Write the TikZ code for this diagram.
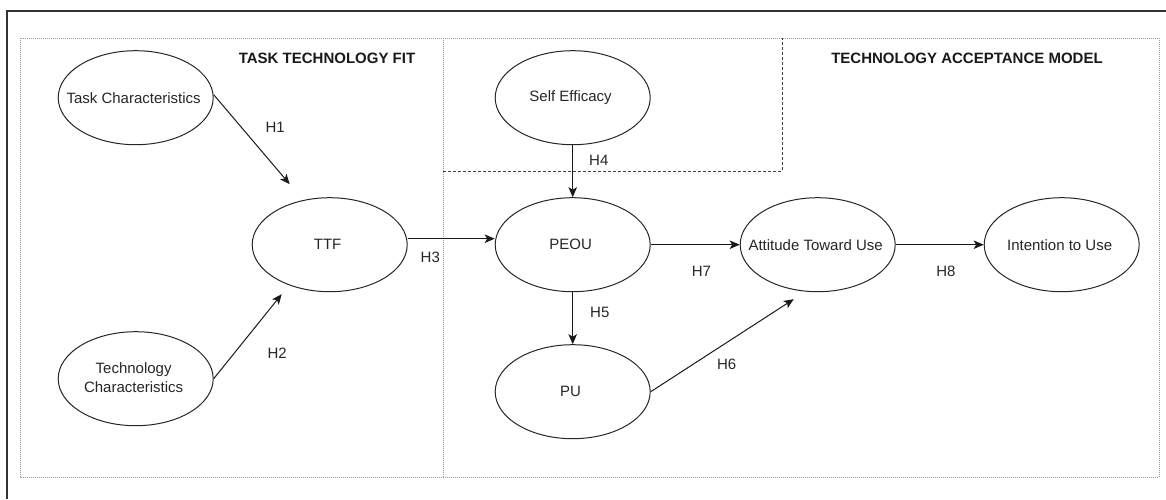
\documentclass[tikz,border=0pt]{standalone}
\usepackage{fontspec}
\setmainfont{Liberation Sans}
\usepackage{tikz}
\usetikzlibrary{matrix,shapes.geometric,arrows.meta}

\tikzset{
  construct/.style={ellipse, draw=black!85, line width=1pt, minimum width=155pt,
    minimum height=94pt, inner xsep=-15pt, inner ysep=3pt, anchor=center,
    align=center, font=\fontsize{15}{19}\selectfont, text=black!85},
  hyp/.style={inner sep=0pt, font=\fontsize{15}{18}\selectfont, text=black!85},
  zone/.style={draw=black!40, line width=1pt, dash pattern=on 1pt off 1pt},
  subzone/.style={draw=black!75, line width=1pt, dash pattern=on 3pt off 2pt},
  heading/.style={font=\fontsize{15}{18}\selectfont\bfseries, text=black!90}
}

\begin{document}
\begin{tikzpicture}[x=1pt,y=1pt]
    \useasboundingbox (0,0) rectangle (1166,-499);
    \draw[black!80, line width=1.5pt] (7,-499) -- (7,-11) -- (1166,-11);
    \draw[zone] (20,-38) rectangle (1159,-477);
    \draw[zone] (443,-38) -- (443,-477);
    \draw[subzone] (443,-171) -- (782,-171) -- (782,-38);
    \node[heading] (ttftitle) at (327,-58) {TASK TECHNOLOGY FIT};
    \node[heading] (tamtitle) at (967,-58) {TECHNOLOGY ACCEPTANCE MODEL};

    \matrix (m) [matrix of nodes, anchor=north west, inner sep=0pt, row sep=52pt,
      column sep=88pt, nodes={construct}] at (57.5,-50)
    {
      Task Characteristics &[-50pt] &[-1pt] Self Efficacy &[1pt] &[0pt] \\
      &[-50pt] TTF &[-1pt] PEOU &[1pt] Attitude Toward Use &[0pt] Intention to Use \\[-13pt]
      |[yshift=13pt]| \begin{tabular}{@{}c@{}}Technology\\Characteristics\end{tabular} &[-50pt] &[-1pt] PU &[1pt] &[0pt] \\
    };
    \path[-{Stealth[length=10pt,width=8.5pt,inset=2.5pt]}, color=black!90, line width=1pt]
    ([yshift=3pt]m-1-1.east) edge node[hyp,pos=0.36,right=24pt] {H1} ([xshift=-40pt,yshift=13pt]m-2-2.north)
    (m-3-1.east) edge node[hyp,pos=0.3,right=33pt] {H2} ([xshift=-48pt,yshift=-2pt]m-2-2.south)
    ([yshift=6pt]m-2-2.east) edge node[hyp,pos=0.26,below=13pt] {H3} ([yshift=6pt]m-2-3.west)
    (m-1-3) edge node[hyp,pos=0.3,right=16pt] {H4} (m-2-3)
    (m-2-3) edge node[hyp,pos=0.38,right=17pt] {H5} (m-3-3)
    (m-3-3.east) edge node[hyp,pos=0.3,right=23pt] {H6} ([xshift=-24pt,yshift=-7pt]m-2-4.south)
    (m-2-3) edge node[hyp,pos=0.57,below=21pt] {H7} (m-2-4)
    (m-2-4) edge node[hyp,pos=0.57,below=21pt] {H8} (m-2-5);
\end{tikzpicture}
\end{document}
